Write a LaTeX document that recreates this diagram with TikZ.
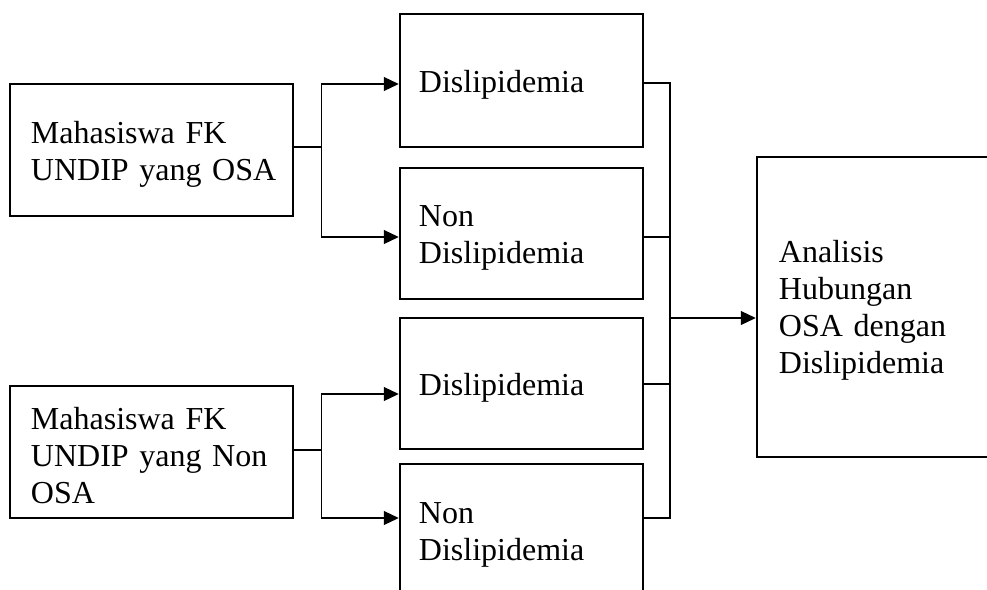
\documentclass[tikz,border=0pt]{standalone}
\usepackage{fontspec}
\setmainfont{Liberation Serif}
\usetikzlibrary{arrows.meta}
\begin{document}
\begin{tikzpicture}[x=1pt,y=-1pt,
  box/.style={draw,line width=2.5pt,inner sep=0pt},
  txt/.style={align=left,inner sep=0pt,font=\fontsize{32}{37}\selectfont},
  lbox/.style={box,minimum width=283pt,minimum height=132pt},
  mbox/.style={box,minimum width=243pt},
  rbox/.style={box,minimum width=300pt,minimum height=300pt},
  ltxt/.style={txt,text width=258pt},
  mtxt/.style={txt,text width=220pt},
  rtxt/.style={txt,text width=254pt},
  conn/.style={line width=1.2pt},
  arr/.style={conn,-{Triangle[length=15pt,width=14pt]}}]
\path[use as bounding box,clip] (0,0) rectangle (987,589);
\fill[white] (0,0) rectangle (987,589);
\node[lbox] (L1) at (151.5,150) {};
\node[lbox] (L2) at (151.5,452) {};
\node[mbox,minimum height=133pt] (M1) at (521.5,80.5) {};
\node[mbox,minimum height=131pt] (M2) at (521.5,233.5) {};
\node[mbox,minimum height=131pt] (M3) at (521.5,383.5) {};
\node[mbox,minimum height=133pt] (M4) at (521.5,530.5) {};
\node[rbox] (R) at (907,307) {};
\node[ltxt,anchor=west] (tL1) at ([xshift=22pt,yshift=-4pt]L1.west) {Mahasiswa FK\\UNDIP yang OSA};
\node[ltxt,anchor=west] (tL2) at ([xshift=22pt,yshift=-4pt]L2.west) {Mahasiswa FK\\UNDIP yang Non\\OSA};
\node[mtxt,anchor=west] (tM1) at ([xshift=20pt,yshift=-4pt]M1.west) {Dislipidemia};
\node[mtxt,anchor=west] (tM2) at ([xshift=20pt,yshift=-4pt]M2.west) {Non\\Dislipidemia};
\node[mtxt,anchor=west] (tM3) at ([xshift=20pt,yshift=-4pt]M3.west) {Dislipidemia};
\node[mtxt,anchor=west] (tM4) at ([xshift=20pt,yshift=-4pt]M4.west) {Non\\Dislipidemia};
\node[rtxt,anchor=west] (tR) at ([xshift=23pt,yshift=-3pt]R.west) {Analisis\\Hubungan\\OSA dengan\\Dislipidemia};
% left splits
\draw[conn] ([yshift=3pt]L1.east) -- ++(27,0) coordinate (j1);
\draw[arr] (j1) |- ([yshift=-3.5pt]M1.west);
\draw[arr] (j1) |- ([yshift=-3.5pt]M2.west);
\draw[conn] ([yshift=2pt]L2.east) -- ++(27,0) coordinate (j2);
\draw[arr] (j2) |- ([yshift=-10.5pt]M3.west);
\draw[arr] (j2) |- ([yshift=12.5pt]M4.west);
% right bus
\coordinate (bus) at (670,318);
\draw[conn] ([yshift=-2.5pt]M1.east) -| (bus) |- ([yshift=12.5pt]M4.east);
\draw[conn] ([yshift=-3.5pt]M2.east) -- ++(27,0);
\draw[conn] ([yshift=-0.5pt]M3.east) -- ++(27,0);
\draw[arr] (bus) -- ([yshift=-11pt]R.west);
\end{tikzpicture}
\end{document}
